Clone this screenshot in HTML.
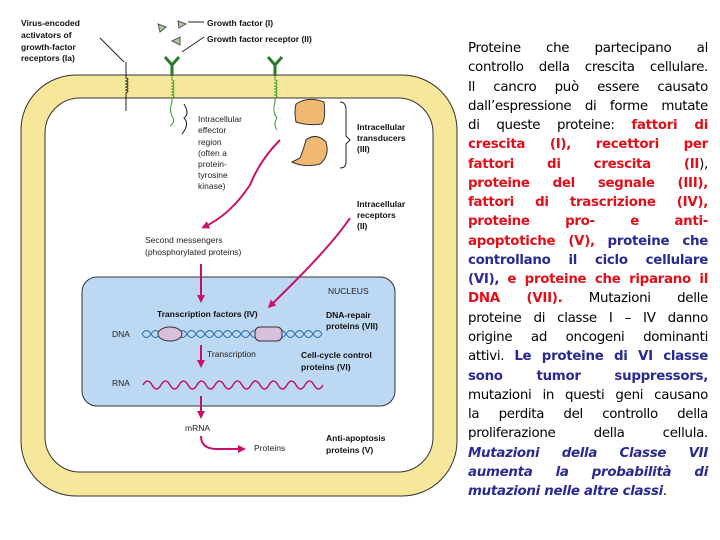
<!DOCTYPE html>
<html><head><meta charset="utf-8"><style>
body{margin:0;width:720px;height:540px;background:#fff;overflow:hidden;position:relative;font-family:"Liberation Sans",sans-serif}
#t{position:absolute;left:468px;top:39px;width:240px;font-family:"DejaVu Sans","Liberation Sans",sans-serif;font-size:13.4px;line-height:19.27px;color:#000;letter-spacing:-0.3px}
#t div{text-align:justify;text-align-last:justify;white-space:nowrap;height:19.27px}
#t div.l{text-align-last:left}
.r{color:#e0101a;font-weight:bold}
.b{color:#2a2a90;font-weight:bold}
.bi{color:#2a2a90;font-weight:bold;font-style:italic}
</style></head><body>
<svg width="460" height="540" style="position:absolute;left:0;top:0" font-family="Liberation Sans, sans-serif">
<defs><marker id="a" markerWidth="8" markerHeight="8" refX="5" refY="4" orient="auto" markerUnits="userSpaceOnUse"><path d="M0,0 L8,4 L0,8 Z" fill="#c8106a"/></marker></defs>
<rect x="21" y="75" width="436" height="421" rx="55" fill="#f6e79a" stroke="#333" stroke-width="1"/>
<rect x="45" y="98" width="388" height="374" rx="35" fill="#fff" stroke="#333" stroke-width="1"/>
<rect x="82" y="277" width="313" height="129" rx="15" fill="#bcd8f2" stroke="#333" stroke-width="1"/>
<g stroke="#2a7a2a" stroke-width="3" fill="none"><path d="M165,57 L172,65 L179,57 M172,65 L172,76"/><path d="M268,57 L275,65 L282,57 M275,65 L275,76"/></g>
<g stroke="#3a9a3a" stroke-width="1" fill="none"><path d="M172,76 v4 q4,1 0,3 q4,1 0,3 q4,1 0,3 q4,1 0,3 q4,1 0,3 q4,1 0,3 v4 q-3,8 0,14 q4,6 -2,10"/><path d="M275,76 v4 q4,1 0,3 q4,1 0,3 q4,1 0,3 q4,1 0,3 q4,1 0,3 q4,1 0,3 v4 q-3,10 2,16 q-4,6 0,12"/></g>
<path d="M126,62 v16 q4,1 0,3 q4,1 0,3 q4,1 0,3 q4,1 0,3 q4,1 0,3 v18" stroke="#222" fill="none"/>
<path d="M100,38 L124,62" stroke="#222"/>
<g fill="#aac8a0" stroke="#555"><path d="M158,24 l8,3 l-6,5z"/><path d="M178,21 l8,3 l-7,4z"/><path d="M172,41 l8,-4 l0,8z"/></g>
<path d="M188,22 h16 M182,52 L204,37" stroke="#222"/>
<g fill="#f0b870" stroke="#333"><path d="M296,104 q12,-8 28,-2 q2,16 -2,22 q-14,2 -26,-2 q-2,-10 0,-18z"/><path d="M306,140 q10,-8 20,2 q4,14 -6,22 q-16,4 -28,-2 l8,-4 q4,-10 6,-18z"/></g>
<path d="M184,104 q6,10 0,14 q6,6 -2,16 M340,102 q6,0 6,8 v26 l4,4 l-4,4 v18 q0,6 -6,6" stroke="#222" fill="none"/>
<text font-size="8.5" font-weight="bold" fill="#111"><tspan x="21" y="26">Virus-encoded</tspan><tspan x="21" y="38">activators of</tspan><tspan x="21" y="50">growth-factor</tspan><tspan x="21" y="61">receptors (Ia)</tspan><tspan x="207" y="26">Growth factor (I)</tspan><tspan x="207" y="42">Growth factor receptor (II)</tspan><tspan x="357" y="130">Intracellular</tspan><tspan x="357" y="141">transducers</tspan><tspan x="357" y="152">(III)</tspan><tspan x="357" y="207">Intracellular</tspan><tspan x="357" y="218">receptors</tspan><tspan x="357" y="229">(II)</tspan><tspan x="157" y="317">Transcription factors (IV)</tspan><tspan x="326" y="318">DNA-repair</tspan><tspan x="326" y="329">proteins (VII)</tspan><tspan x="301" y="358">Cell-cycle control</tspan><tspan x="301" y="370">proteins (VI)</tspan><tspan x="326" y="441">Anti-apoptosis</tspan><tspan x="326" y="453">proteins (V)</tspan></text>
<text font-size="8.5" fill="#222"><tspan x="198" y="122">Intracellular</tspan><tspan x="198" y="133">effector</tspan><tspan x="198" y="145">region</tspan><tspan x="198" y="156">(often a</tspan><tspan x="198" y="167">protein-</tspan><tspan x="198" y="178">tyrosine</tspan><tspan x="198" y="189">kinase)</tspan><tspan x="145" y="243">Second messengers</tspan><tspan x="145" y="255">(phosphorylated proteins)</tspan><tspan x="328" y="294">NUCLEUS</tspan><tspan x="112" y="337">DNA</tspan><tspan x="207" y="357">Transcription</tspan><tspan x="112" y="386">RNA</tspan><tspan x="185" y="431">mRNA</tspan><tspan x="254" y="451">Proteins</tspan></text>
<g stroke="#c8106a" stroke-width="2" fill="none">
<path d="M280,140 q-20,20 -30,45 q-20,30 -46,42" marker-end="url(#a)"/>
<path d="M350,218 q-20,30 -80,88" marker-end="url(#a)"/>
<path d="M201,264 v36" marker-end="url(#a)"/>
<path d="M201,345 v20" marker-end="url(#a)"/>
<path d="M201,396 v20" marker-end="url(#a)"/>
<path d="M201,436 q0,13 16,13 h26" marker-end="url(#a)"/>
<path d="M143,385 q4.5,-8 9,0 t9,0 t9,0 t9,0 t9,0 t9,0 t9,0 t9,0 t9,0 t9,0 t9,0 t9,0 t9,0 t9,0 t9,0 t9,0 t9,0 t9,0 t9,0 t9,0" stroke-width="1.5"/>
</g>
<g stroke="#2a6ab0" stroke-width="1" fill="none"><path d="M142,334 q4.5,-7 9,0 t9,0 t9,0 t9,0 t9,0 t9,0 t9,0 t9,0 t9,0 t9,0 t9,0 t9,0 t9,0 t9,0 t9,0 t9,0 t9,0 t9,0 t9,0 t9,0"/><path d="M142,334 q4.5,7 9,0 t9,0 t9,0 t9,0 t9,0 t9,0 t9,0 t9,0 t9,0 t9,0 t9,0 t9,0 t9,0 t9,0 t9,0 t9,0 t9,0 t9,0 t9,0 t9,0"/></g>
<ellipse cx="170" cy="334" rx="12" ry="7" fill="#d8c0dc" stroke="#333"/>
<rect x="255" y="327" width="27" height="14" rx="5" fill="#d8c0dc" stroke="#333"/>
</svg>
<div id="t">
<div>Proteine che partecipano al</div>
<div>controllo della crescita cellulare.</div>
<div>Il cancro può essere causato</div>
<div>dall’espressione di forme mutate</div>
<div>di queste proteine: <span class="r">fattori di</span></div>
<div class="r">crescita (I), recettori per</div>
<div><span class="r">fattori di crescita (II</span>),</div>
<div class="r">proteine del segnale (III),</div>
<div class="r">fattori di trascrizione (IV),</div>
<div class="r">proteine pro- e anti-</div>
<div><span class="r">apoptotiche (V),</span> <span class="b">proteine che</span></div>
<div class="b">controllano il ciclo cellulare</div>
<div><span class="b">(VI),</span> <span class="r">e proteine che riparano il</span></div>
<div><span class="r">DNA (VII).</span> Mutazioni delle</div>
<div>proteine di classe I – IV danno</div>
<div>origine ad oncogeni dominanti</div>
<div>attivi. <span class="b">Le proteine di VI classe</span></div>
<div class="b">sono tumor suppressors,</div>
<div>mutazioni in questi geni causano</div>
<div>la perdita del controllo della</div>
<div>proliferazione della cellula.</div>
<div class="bi">Mutazioni della Classe VII</div>
<div class="bi">aumenta la probabilità di</div>
<div class="l"><span class="bi">mutazioni nelle altre classi</span>.</div>
</div>
</body></html>
